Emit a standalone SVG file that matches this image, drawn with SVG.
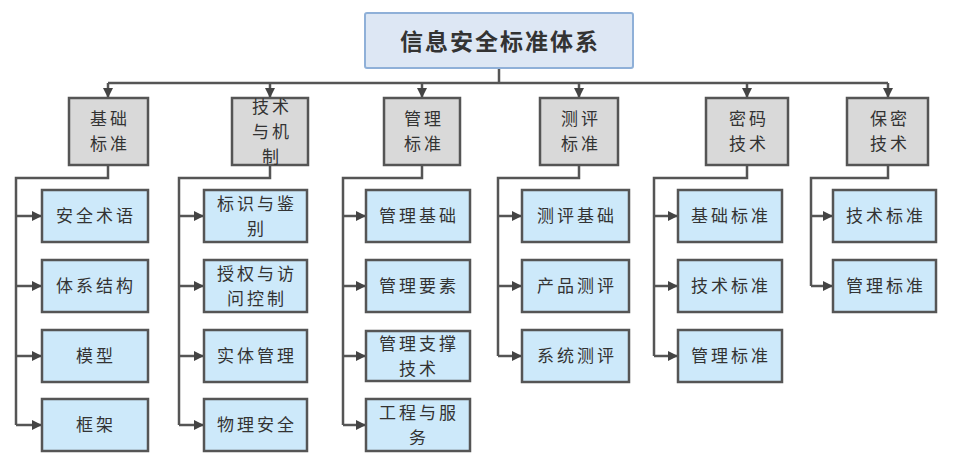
<svg xmlns="http://www.w3.org/2000/svg" width="955" height="459" viewBox="0 0 955 459">
<defs>
<marker id="ah" viewBox="0 0 10 10" refX="9" refY="5" markerWidth="4" markerHeight="4" orient="auto" markerUnits="strokeWidth">
<path d="M0,0 L10,5 L0,10 z" fill="#444"/>
</marker>
<style>
.t{font-family:"Noto Sans CJK SC","Liberation Sans",sans-serif;fill:#333;text-anchor:middle}
.root rect{fill:#dde7f4;stroke:#8fb0d8;stroke-width:2}
.cat rect{fill:#d9d9d9;stroke:#555;stroke-width:2.5}
.leaf rect{fill:#cde9fa;stroke:#555;stroke-width:2.5}
.cat text{font-size:17px;letter-spacing:3px}
.leaf text{font-size:17px;letter-spacing:3px}
.root text{font-size:23px;font-weight:bold;letter-spacing:2px}
.c path{fill:none;stroke:#555;stroke-width:2.5}
.c .a{marker-end:url(#ah)}
</style>
</defs>
<rect width="955" height="459" fill="#fff"/>
<g class="c" id="connectors">
<path d="M499,68 V83 M108,83 H888"/>
<path class="a" d="M108,83 V97"/>
<path class="a" d="M270,83 V97"/>
<path class="a" d="M422,83 V97"/>
<path class="a" d="M579,83 V97"/>
<path class="a" d="M747,83 V97"/>
<path class="a" d="M888,83 V97"/>
<path d="M108,165 V178 H16 V425"/>
<path class="a" d="M16,216 H41"/><path class="a" d="M16,286 H41"/><path class="a" d="M16,356 H41"/><path class="a" d="M16,425 H41"/>
<path d="M270,165 V178 H179 V425"/>
<path class="a" d="M179,216 H203"/><path class="a" d="M179,286 H203"/><path class="a" d="M179,356 H203"/><path class="a" d="M179,425 H203"/>
<path d="M422,165 V178 H343 V425"/>
<path class="a" d="M343,216 H365"/><path class="a" d="M343,286 H365"/><path class="a" d="M343,356 H365"/><path class="a" d="M343,425 H365"/>
<path d="M579,165 V178 H498 V356"/>
<path class="a" d="M498,216 H521"/><path class="a" d="M498,286 H521"/><path class="a" d="M498,356 H521"/>
<path d="M747,165 V178 H654 V356"/>
<path class="a" d="M654,216 H677"/><path class="a" d="M654,286 H677"/><path class="a" d="M654,356 H677"/>
<path d="M888,165 V178 H811 V286"/>
<path class="a" d="M811,216 H832"/><path class="a" d="M811,286 H832"/>
</g>
<g id="root" class="root"><rect x="365" y="13" width="268" height="55" rx="2"/><text class="t" x="500" y="50">信息安全标准体系</text></g>

<g id="cat1" class="cat"><rect x="69" y="98" width="79" height="67"/><text class="t" x="110" y="125">基础</text><text class="t" x="110" y="150">标准</text></g>
<g id="cat2" class="cat"><rect x="232" y="98" width="76" height="67"/><text class="t" x="272" y="113">技术</text><text class="t" x="272" y="138">与机</text><text class="t" x="272" y="163">制</text></g>
<g id="cat3" class="cat"><rect x="384" y="98" width="76" height="67"/><text class="t" x="424" y="125">管理</text><text class="t" x="424" y="150">标准</text></g>
<g id="cat4" class="cat"><rect x="540" y="98" width="78" height="67"/><text class="t" x="581" y="125">测评</text><text class="t" x="581" y="150">标准</text></g>
<g id="cat5" class="cat"><rect x="706" y="98" width="82" height="67"/><text class="t" x="749" y="125">密码</text><text class="t" x="749" y="150">技术</text></g>
<g id="cat6" class="cat"><rect x="847" y="98" width="81" height="67"/><text class="t" x="890" y="125">保密</text><text class="t" x="890" y="150">技术</text></g>

<g id="c1a" class="leaf"><rect x="42" y="190" width="106" height="52"/><text class="t" x="96" y="222">安全术语</text></g>
<g id="c1b" class="leaf"><rect x="42" y="260" width="106" height="52"/><text class="t" x="96" y="292">体系结构</text></g>
<g id="c1c" class="leaf"><rect x="42" y="330" width="106" height="52"/><text class="t" x="96" y="362">模型</text></g>
<g id="c1d" class="leaf"><rect x="42" y="399" width="106" height="52"/><text class="t" x="96" y="431">框架</text></g>

<g id="c2a" class="leaf"><rect x="204" y="190" width="103" height="52"/><text class="t" x="257" y="210">标识与鉴</text><text class="t" x="257" y="235">别</text></g>
<g id="c2b" class="leaf"><rect x="204" y="260" width="103" height="52"/><text class="t" x="257" y="280">授权与访</text><text class="t" x="257" y="305">问控制</text></g>
<g id="c2c" class="leaf"><rect x="204" y="330" width="103" height="52"/><text class="t" x="257" y="362">实体管理</text></g>
<g id="c2d" class="leaf"><rect x="204" y="399" width="103" height="52"/><text class="t" x="257" y="431">物理安全</text></g>

<g id="c3a" class="leaf"><rect x="366" y="190" width="104" height="52"/><text class="t" x="419" y="222">管理基础</text></g>
<g id="c3b" class="leaf"><rect x="366" y="260" width="104" height="52"/><text class="t" x="419" y="292">管理要素</text></g>
<g id="c3c" class="leaf"><rect x="366" y="331" width="104" height="50"/><text class="t" x="419" y="350">管理支撑</text><text class="t" x="419" y="375">技术</text></g>
<g id="c3d" class="leaf"><rect x="366" y="399" width="104" height="52"/><text class="t" x="419" y="419">工程与服</text><text class="t" x="419" y="444">务</text></g>

<g id="c4a" class="leaf"><rect x="522" y="190" width="107" height="52"/><text class="t" x="577" y="222">测评基础</text></g>
<g id="c4b" class="leaf"><rect x="522" y="260" width="107" height="52"/><text class="t" x="577" y="292">产品测评</text></g>
<g id="c4c" class="leaf"><rect x="522" y="330" width="107" height="52"/><text class="t" x="577" y="362">系统测评</text></g>

<g id="c5a" class="leaf"><rect x="678" y="190" width="104" height="52"/><text class="t" x="731" y="222">基础标准</text></g>
<g id="c5b" class="leaf"><rect x="678" y="260" width="104" height="52"/><text class="t" x="731" y="292">技术标准</text></g>
<g id="c5c" class="leaf"><rect x="678" y="330" width="104" height="52"/><text class="t" x="731" y="362">管理标准</text></g>

<g id="c6a" class="leaf"><rect x="833" y="190" width="103" height="52"/><text class="t" x="886" y="222">技术标准</text></g>
<g id="c6b" class="leaf"><rect x="833" y="260" width="103" height="52"/><text class="t" x="886" y="292">管理标准</text></g>
</svg>
